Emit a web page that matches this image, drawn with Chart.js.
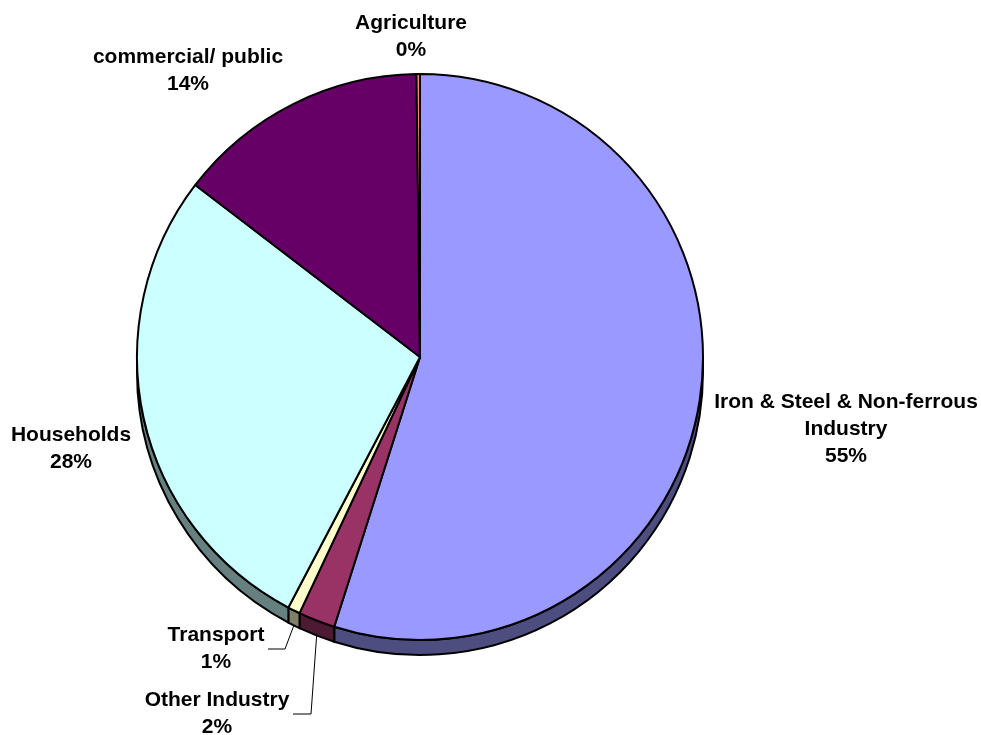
<!DOCTYPE html>
<html>
<head>
<meta charset="utf-8">
<title>Energy use by sector</title>
<script src="https://cdn.jsdelivr.net/npm/chart.js@4.4.1/dist/chart.umd.min.js"></script>
<style>
  html, body { margin: 0; padding: 0; background: #fff; }
  #wrap { position: relative; width: 981px; height: 735px; }
</style>
</head>
<body>
<div id="wrap"><canvas id="pieChart"></canvas></div>
<script>
// sectors, clockwise from 12 o'clock
const sectors = [
  ['Iron & Steel & Non-ferrous', 'Industry'],
  'Other Industry',
  'Transport',
  'Households',
  'commercial/ public',
  'Agriculture'
]
const shares = [54.9, 2.1, 0.7, 27.7, 14.4, 0.2]

const topColors = ['#9999FF', '#993366', '#FFFFCC', '#CCFFFF', '#660066', '#FF8080']
const sideColors = ['#4D4D80', '#4D1A33', '#80806A', '#668080', '#330033', '#804040']

const depth = 15
const lineHeight = 27
const labelFont = 'bold 21px "Liberation Sans", Arial, sans-serif'

// label block anchor (centre of first line), relative to pie centre
const labelAnchors = [
  { dx: 426, dy: 45 },
  { dx: -203, dy: 343, elbow: { dx: -109, dy: 357, endX: -127 } },
  { dx: -204, dy: 278, elbow: { dx: -135, dy: 292, endX: -152 } },
  { dx: -349, dy: 78 },
  { dx: -232, dy: -300 },
  { dx: -9, dy: -334 }
]

// extruded side of the pie, only the front (lower) half shows
const pieSide = {
  id: 'pieSide',
  beforeDatasetsDraw(chart) {
    const ctx = chart.ctx
    const arcs = chart.getDatasetMeta(0).data
    ctx.save()
    arcs.forEach((arc, i) => {
      const p = arc.getProps(['x', 'y', 'startAngle', 'endAngle', 'outerRadius'], true)
      const a0 = Math.max(p.startAngle, 0)
      const a1 = Math.min(p.endAngle, Math.PI)
      if (a1 <= a0) return
      ctx.beginPath()
      ctx.arc(p.x, p.y, p.outerRadius, a0, a1)
      ctx.arc(p.x, p.y + depth, p.outerRadius, a1, a0, true)
      ctx.closePath()
      ctx.fillStyle = sideColors[i]
      ctx.fill()
      ctx.lineWidth = 2
      ctx.strokeStyle = '#000'
      ctx.stroke()
    })
    ctx.restore()
  }
}

const sliceLabels = {
  id: 'sliceLabels',
  afterDatasetsDraw(chart) {
    const ctx = chart.ctx
    const arcs = chart.getDatasetMeta(0).data
    const total = shares.reduce((a, b) => a + b, 0)
    ctx.save()
    ctx.font = labelFont
    ctx.fillStyle = '#000'
    ctx.textAlign = 'center'
    ctx.textBaseline = 'middle'
    arcs.forEach((arc, i) => {
      const p = arc.getProps(['x', 'y', 'startAngle', 'endAngle', 'outerRadius'], true)
      const anchor = labelAnchors[i]
      const name = Array.isArray(sectors[i]) ? sectors[i] : [sectors[i]]
      const lines = name.concat([Math.round(shares[i] / total * 100) + '%'])
      const x = p.x + anchor.dx
      const y = p.y + anchor.dy
      lines.forEach((t, k) => ctx.fillText(t, x, y + k * lineHeight))

      if (anchor.elbow) {
        const mid = (p.startAngle + p.endAngle) / 2
        const ex = p.x + p.outerRadius * Math.cos(mid)
        const ey = p.y + p.outerRadius * Math.sin(mid) + depth
        ctx.beginPath()
        ctx.moveTo(ex, ey)
        ctx.lineTo(p.x + anchor.elbow.dx, p.y + anchor.elbow.dy)
        ctx.lineTo(p.x + anchor.elbow.endX, p.y + anchor.elbow.dy)
        ctx.lineWidth = 1
        ctx.strokeStyle = '#000'
        ctx.stroke()
      }
    })
    ctx.restore()
  }
}

new Chart(document.getElementById('pieChart'), {
  type: 'pie',
  data: {
    labels: sectors,
    datasets: [{
      data: shares,
      backgroundColor: topColors,
      borderColor: '#000',
      borderWidth: 2
    }]
  },
  options: {
    responsive: true,
    maintainAspectRatio: false,
    animation: false,
    layout: { padding: { left: 136, top: 73, right: 277, bottom: 94 } },
    plugins: {
      legend: { display: false },
      tooltip: { enabled: false }
    }
  },
  plugins: [pieSide, sliceLabels]
})
</script>
</body>
</html>
